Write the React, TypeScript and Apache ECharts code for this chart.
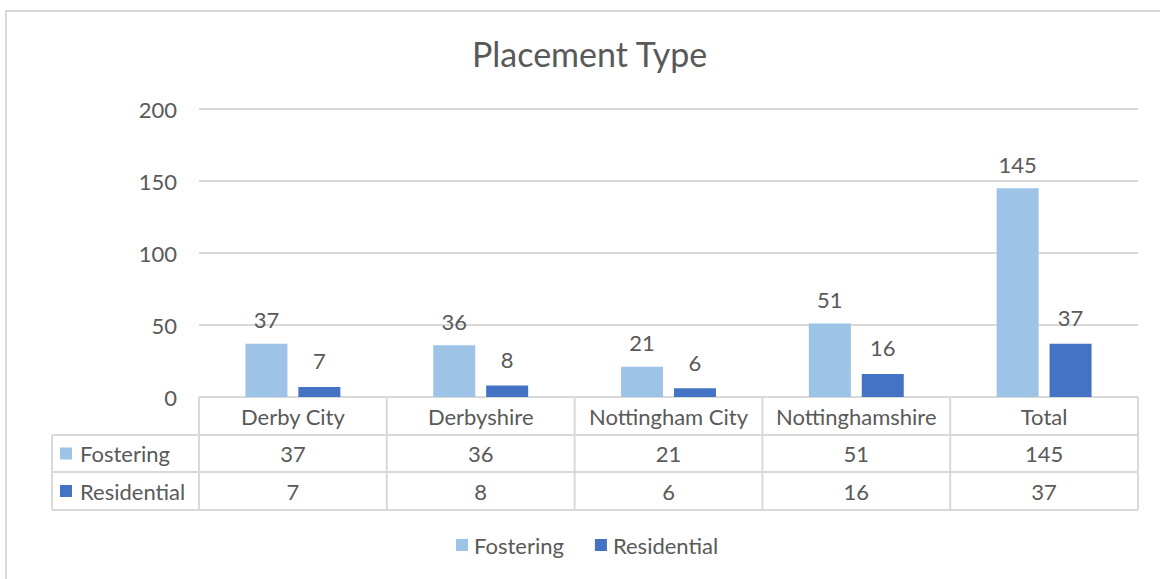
import React, { useEffect, useRef } from "react";
import * as echarts from "echarts";

const categories = ["Derby City", "Derbyshire", "Nottingham City", "Nottinghamshire", "Total"];
const fostering = [37, 36, 21, 51, 145];
const residential = [7, 8, 6, 16, 37];
const seriesNames = ["Fostering", "Residential"];
const colors = ["#9DC3E6", "#4472C4"];
const yTicks = { min: 0, max: 200, interval: 50 };

const FONT = "Lato";
const TXT = "#595959";
const LINE = "#d9d9d9";

const GRID_LEFT = 199;
const GRID_RIGHT_X = 1138;
const GRID_TOP = 109;
const GRID_BOTTOM_Y = 397;
const TABLE_LEFT = 52;
const ROW_Y = [397, 435, 472, 510];

export default function App() {
  const ref = useRef<HTMLDivElement>(null);
  useEffect(() => {
    if (!ref.current) return;
    const chart = echarts.init(ref.current, null, { renderer: "svg" });
    const plotW = GRID_RIGHT_X - GRID_LEFT;
    const cellW = plotW / categories.length;
    const g: any[] = [];
    // frame
    g.push({
      type: "rect",
      shape: { x: 6, y: 11, width: 1300, height: 700 },
      style: { fill: "none", stroke: LINE, lineWidth: 2 },
      silent: true,
    });
    // horizontal table lines
    g.push({ type: "line", shape: { x1: GRID_LEFT, y1: ROW_Y[0], x2: GRID_RIGHT_X, y2: ROW_Y[0] }, style: { stroke: LINE, lineWidth: 2 } });
    for (let r = 1; r < ROW_Y.length; r++) {
      g.push({ type: "line", shape: { x1: TABLE_LEFT, y1: ROW_Y[r], x2: GRID_RIGHT_X, y2: ROW_Y[r] }, style: { stroke: LINE, lineWidth: 2 } });
    }
    // vertical table lines
    g.push({ type: "line", shape: { x1: TABLE_LEFT, y1: ROW_Y[1], x2: TABLE_LEFT, y2: ROW_Y[3] }, style: { stroke: LINE, lineWidth: 2 } });
    for (let i = 0; i <= categories.length; i++) {
      const x = GRID_LEFT + i * cellW;
      g.push({ type: "line", shape: { x1: x, y1: ROW_Y[0], x2: x, y2: ROW_Y[3] }, style: { stroke: LINE, lineWidth: 2 } });
    }
    // table rows
    const rows = [fostering, residential];
    rows.forEach((vals, r) => {
      const cy = (ROW_Y[r + 1] + ROW_Y[r + 2]) / 2;
      g.push({ type: "rect", shape: { x: 60, y: cy - 6, width: 12, height: 12 }, style: { fill: colors[r] } });
      g.push({
        type: "text", x: 80, y: cy,
        style: { text: seriesNames[r], fill: TXT, font: `22px ${FONT}`, textAlign: "left", textVerticalAlign: "middle" },
      });
      vals.forEach((v, i) => {
        g.push({
          type: "text", x: GRID_LEFT + (i + 0.5) * cellW, y: cy,
          style: { text: String(v), fill: TXT, font: `22px ${FONT}`, textAlign: "center", textVerticalAlign: "middle" },
        });
      });
    });

    chart.setOption({
      animation: false,
      backgroundColor: "#fff",
      color: colors,
      textStyle: { fontFamily: FONT },
      title: {
        text: "Placement Type",
        left: 467,
        top: 31,
        textStyle: { fontFamily: FONT, fontSize: 34, fontWeight: "normal", color: TXT },
      },
      legend: {
        bottom: 18,
        left: 451,
        itemWidth: 12,
        itemHeight: 12,
        itemGap: 31,
        icon: "rect",
        textStyle: { fontFamily: FONT, fontSize: 22, color: TXT, padding: [0, 0, 0, 1] },
        data: seriesNames,
      },
      grid: { left: GRID_LEFT, right: 1160 - GRID_RIGHT_X, top: GRID_TOP, bottom: 579 - GRID_BOTTOM_Y, containLabel: false },
      xAxis: {
        type: "category",
        data: categories,
        axisLine: { show: false },
        axisTick: { show: false },
        axisLabel: { color: TXT, fontSize: 22, fontFamily: FONT, margin: 8, interval: 0 },
      },
      yAxis: {
        type: "value",
        min: yTicks.min,
        max: yTicks.max,
        interval: yTicks.interval,
        axisLine: { show: false },
        axisTick: { show: false },
        axisLabel: { color: TXT, fontSize: 22, fontFamily: FONT, margin: 22 },
        splitLine: { lineStyle: { color: LINE, width: 2 } },
      },
      series: [
        {
          name: seriesNames[0], type: "bar", data: fostering, barWidth: 42, barGap: "26%",
          label: { show: true, position: "top", distance: 13, color: TXT, fontSize: 22, fontFamily: FONT },
        },
        {
          name: seriesNames[1], type: "bar", data: residential, barWidth: 42, barGap: "26%",
          label: { show: true, position: "top", distance: 15, color: TXT, fontSize: 22, fontFamily: FONT },
        },
      ],
      graphic: g,
    });
    return () => chart.dispose();
  }, []);
  return <div ref={ref} style={{ position: "fixed", left: 0, top: 0, width: 1160, height: 579 }} />;
}
